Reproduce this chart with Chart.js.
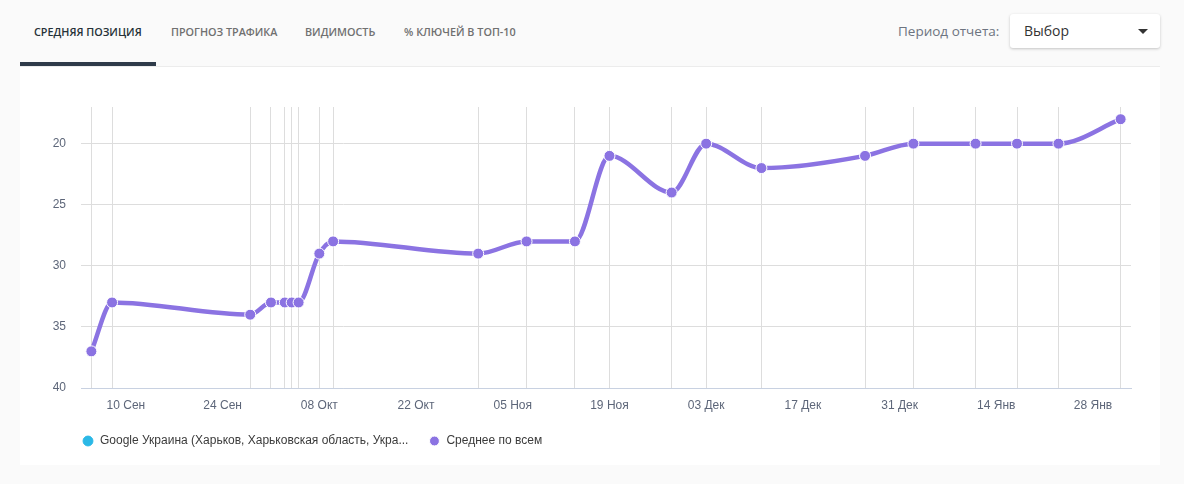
<!DOCTYPE html>
<html>
<head>
<meta charset="utf-8">
<script src="https://cdn.jsdelivr.net/npm/chart.js@4.4.1/dist/chart.umd.min.js"></script>
<style>
  html, body { margin: 0; padding: 0; }
  body { width: 1184px; height: 484px; background: #fafafa; position: relative; overflow: hidden; font-family: "Open Sans", sans-serif; }
  .tab { position: absolute; top: 24px; font-size: 10.8px; font-weight: 600; color: #707070; white-space: nowrap; }
  .tab.active { color: #263238; }
  .underline { position: absolute; left: 20px; top: 62px; width: 136px; height: 4px; background: #2f3b4a; }
  .card { position: absolute; left: 20px; top: 66px; width: 1140px; height: 399px; background: #fff; border-top: 1px solid #ececec; box-sizing: border-box; }
  .period { position: absolute; left: 898px; top: 22px; font-size: 13.5px; color: #6d7480; }
  .select { position: absolute; left: 1010px; top: 14px; width: 150px; height: 34px; background: #fff; border-radius: 3px; box-shadow: 0 1px 3px rgba(0,0,0,0.22); }
  .select span { position: absolute; left: 14px; top: 7px; font-size: 14px; color: #333; }
  .caret { position: absolute; left: 128px; top: 15px; width: 0; height: 0; border-left: 5px solid transparent; border-right: 5px solid transparent; border-top: 5px solid #333; }
  #wrap { position: absolute; left: 20px; top: 66px; width: 1140px; height: 399px; }
</style>
</head>
<body>
<div class="tab active" style="left:34px">СРЕДНЯЯ ПОЗИЦИЯ</div>
<div class="tab" style="left:171px">ПРОГНОЗ ТРАФИКА</div>
<div class="tab" style="left:305px">ВИДИМОСТЬ</div>
<div class="tab" style="left:404px">% КЛЮЧЕЙ В ТОП-10</div>
<div class="underline"></div>
<div class="period">Период отчета:</div>
<div class="select"><span>Выбор</span><div class="caret"></div></div>
<div class="card"></div>
<div id="wrap"><canvas id="posChart"></canvas></div>
<script>
// days counted from 1 Sep (day 0)
var pointDays = [4, 7, 27, 30, 32, 33, 34, 37, 39, 60, 67, 74, 79, 88, 93, 101, 116, 123, 132, 138, 144, 153];
var avgPositions = [37, 33, 34, 33, 33, 33, 33, 29, 28, 29, 28, 28, 21, 24, 20, 22, 21, 20, 20, 20, 20, 18];
var googleUaPositions = [];
var tickDays = [9, 23, 37, 51, 65, 79, 93, 107, 121, 135, 149];
var tickNames = ['10 Сен', '24 Сен', '08 Окт', '22 Окт', '05 Ноя', '19 Ноя', '03 Дек', '17 Дек', '31 Дек', '14 Янв', '28 Янв'];
var seriesNames = ['Google Украина (Харьков, Харьковская область, Укра...', 'Среднее по всем'];

var purple = '#8b73e2';
var cyan = '#2bb8e6';
var gridColor = '#dddddd';

function toPoints(xs, ys){
    return ys.map(function(v, i){ return {x: xs[i], y: v}; });
}

// move legend so it starts under the plot area
var legendShift = {
    id: 'legendShift',
    afterLayout: function(chart){
        var lg = chart.legend;
        var dx = chart.chartArea.left + 1 - lg.options.labels.padding - lg.left;
        lg.left += dx;
        lg.right += dx;
        lg.top -= 8;
        lg.bottom -= 8;
    }
};

Chart.defaults.font.family = '"Liberation Sans", Arial, sans-serif';
Chart.defaults.font.size = 12;

const CHART = document.getElementById('posChart');
let lineChart = new Chart(CHART, {
    type: 'line',
    data: {
        datasets: [
            {
                label: seriesNames[0],
                data: toPoints(pointDays, googleUaPositions),
                borderColor: cyan,
                backgroundColor: cyan,
                pointBackgroundColor: cyan
            },
            {
                label: seriesNames[1],
                data: toPoints(pointDays, avgPositions),
                borderColor: purple,
                backgroundColor: purple,
                borderWidth: 4.5,
                cubicInterpolationMode: 'monotone',
                pointRadius: 5.5,
                pointBorderColor: '#ffffff',
                pointBorderWidth: 1,
                pointBackgroundColor: purple,
                fill: false
            }
        ]
    },
    options: {
        responsive: true,
        maintainAspectRatio: false,
        animation: false,
        layout: { padding: { top: 41, right: 29, left: 0, bottom: 0 } },
        plugins: {
            tooltip: { enabled: false },
            legend: {
                position: 'bottom',
                align: 'start',
                labels: {
                    usePointStyle: true,
                    pointStyle: 'circle',
                    boxWidth: 12,
                    boxHeight: 7,
                    padding: 20,
                    color: '#3b3b3b',
                    font: { size: 12 }
                }
            }
        },
        scales: {
            x: {
                type: 'linear',
                min: 2.5,
                max: 154.5,
                grid: { color: gridColor, drawTicks: false },
                border: { color: '#c8d1e1', width: 1 },
                ticks: { display: false },
                afterBuildTicks: function(scale){
                    scale.ticks = pointDays.map(function(d){ return {value: d}; });
                },
                afterFit: function(scale){ scale.height = 0; }
            },
            x2: {
                type: 'linear',
                position: 'bottom',
                min: 2.5,
                max: 154.5,
                grid: { display: false, drawTicks: false },
                border: { display: false },
                ticks: {
                    autoSkip: false,
                    maxRotation: 0,
                    padding: 10,
                    color: '#5d6679',
                    callback: function(value){
                        var i = tickDays.indexOf(value);
                        return i >= 0 ? tickNames[i] : '';
                    }
                },
                afterBuildTicks: function(scale){
                    scale.ticks = tickDays.map(function(d){ return {value: d}; });
                },
                afterFit: function(scale){ scale.height = 35; }
            },
            y: {
                reverse: true,
                min: 17,
                max: 40,
                grid: { color: gridColor, drawTicks: false },
                border: { display: false },
                ticks: { padding: 15, color: '#5d6679', stepSize: 5 },
                afterBuildTicks: function(scale){
                    scale.ticks = scale.ticks.filter(function(t){ return t.value % 5 === 0; });
                },
                afterFit: function(scale){ scale.width = 61; }
            }
        }
    },
    plugins: [legendShift]
});
</script>
</body>
</html>
